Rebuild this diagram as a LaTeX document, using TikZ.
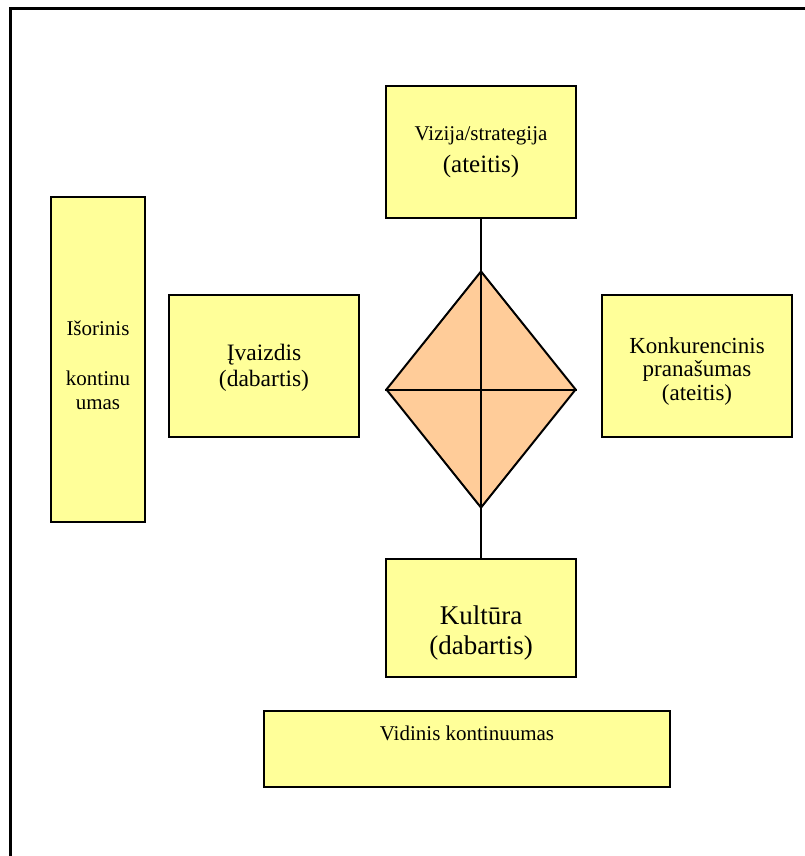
\documentclass[tikz,border=0pt]{standalone}
\usepackage{fontspec}
\setmainfont{Liberation Serif}
\usetikzlibrary{shapes.geometric}

\definecolor{boxyellow}{HTML}{FFFF99}
\definecolor{diamondfill}{HTML}{FFCC99}

\tikzset{
  panel/.style={draw=black, line width=2pt, fill=boxyellow, inner sep=0pt},
  txt/.style={align=center, inner sep=0pt, text=black},
  link/.style={draw=black, line width=2pt},
}

\begin{document}
\begin{tikzpicture}[x=1pt, y=-1pt]
  \useasboundingbox (0,0) rectangle (805,856);

  % outer frame (runs past the page on the right and bottom)
  \draw[line width=3pt] (10,9) rectangle (900,950);

  % boxes
  \node[panel, minimum width=190pt, minimum height=132pt] (viz)  at (481,152) {};
  \node[panel, minimum width=94pt,  minimum height=325pt] (isor) at (98,359.5) {};
  \node[panel, minimum width=190pt, minimum height=142pt] (ivz)  at (264,366) {};
  \node[panel, minimum width=190pt, minimum height=142pt] (konk) at (697,366) {};
  \node[panel, minimum width=190pt, minimum height=118pt] (kult) at (481,618) {};
  \node[panel, minimum width=406pt, minimum height=76pt]  (vid)  at (467,749) {};

  % central diamond with its cross
  \node[diamond, draw=black, line width=2pt, fill=diamondfill, inner sep=0pt,
        minimum width=190pt, minimum height=237pt] (dia) at (481,389.5) {};
  \draw[link] (viz.south) -- (kult.north);
  \draw[link] (dia.west) -- (dia.east);

  % labels
  \node[txt, font=\fontsize{21}{26}\selectfont] at (viz.center)
    {Vizija/strategija\\[6pt]{\fontsize{25}{30}\selectfont (ateitis)}};
  \node[txt, font=\fontsize{21}{24}\selectfont] at ([yshift=-6pt]isor.center)
    {Išorinis\\[26pt]kontinu\\umas};
  \node[txt, font=\fontsize{23.5}{26.5}\selectfont] at ([yshift=-2pt]ivz.center)
    {Įvaizdis\\(dabartis)};
  \node[txt, font=\fontsize{23}{23.5}\selectfont] at ([yshift=-5pt]konk.center)
    {Konkurencinis\\pranašumas\\(ateitis)};
  \node[txt, font=\fontsize{27}{30}\selectfont] at ([yshift=-15pt]kult.center)
    {Kultūra\\(dabartis)};
  \node[txt, font=\fontsize{21}{24}\selectfont] at ([yshift=16pt]vid.center)
    {Vidinis kontinuumas};
\end{tikzpicture}
\end{document}
